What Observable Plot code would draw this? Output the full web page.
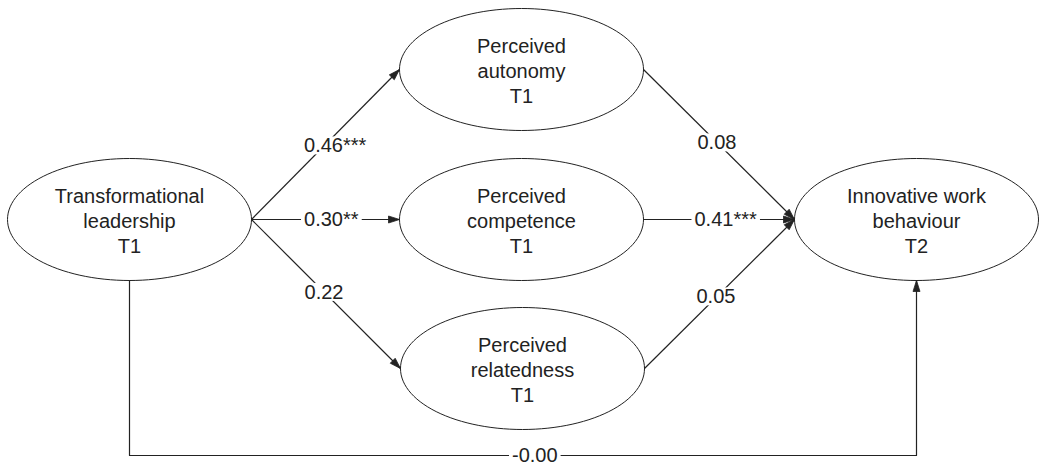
<!DOCTYPE html>
<html><head><meta charset="utf-8">
<script src="https://cdn.jsdelivr.net/npm/d3@7"></script>
<script src="https://cdn.jsdelivr.net/npm/@observablehq/plot@0.6"></script>
<style>body{margin:0;background:#fff;} #chart svg{display:block;}</style>
</head><body><div id="chart"></div>
<script>
// Nodes of the path model
const nodeLabels = [
  "Transformational\nleadership\nT1",
  "Perceived\nautonomy\nT1",
  "Perceived\ncompetence\nT1",
  "Perceived\nrelatedness\nT1",
  "Innovative work\nbehaviour\nT2"
];
// Paths (from -> to) and their coefficients
const edgeFrom = [0, 0, 0, 1, 2, 3];
const edgeTo = [1, 2, 3, 4, 4, 4];
const edgeLabels = ["0.46***", "0.30**", "0.22", "0.08", "0.41***", "0.05"];
const directLabel = "-0.00";

// Layout (diagram geometry)
const nodeX = [129, 521, 521, 522, 916];
const nodeY = [219, 69, 219, 368, 219];
const RX = 122, RY = 61;
const bottomY = 455;
const labelT = [0.49, 0.49, 0.49, 0.49, 0.47, 0.48];
const ink = "#222";
const font = "Liberation Sans, Arial, Helvetica, sans-serif";

// Ellipse outlines
const ellipsePts = [];
nodeLabels.forEach((_, i) => {
  for (let k = 0; k <= 120; k++) {
    const a = (k / 120) * 2 * Math.PI;
    ellipsePts.push({node: i, x: nodeX[i] + RX * Math.cos(a), y: nodeY[i] + RY * Math.sin(a)});
  }
});

// Edge segments
const edges = edgeFrom.map((f, i) => {
  const t = edgeTo[i];
  return {id: i, x1: nodeX[f] + RX, y1: nodeY[f], x2: nodeX[t] - RX, y2: nodeY[t], label: edgeLabels[i]};
});

// Direct path polyline
const directPath = [
  {x: nodeX[0], y: nodeY[0] + RY},
  {x: nodeX[0], y: bottomY},
  {x: nodeX[4], y: bottomY},
  {x: nodeX[4], y: nodeY[4] + RY}
];

// Arrowheads
const HL = 11, HW = 3.5;
const heads = [];
function addHead(id, x1, y1, x2, y2) {
  const dx = x2 - x1, dy = y2 - y1, len = Math.hypot(dx, dy);
  const ux = dx / len, uy = dy / len, nx = -uy, ny = ux;
  const bx = x2 - HL * ux, by = y2 - HL * uy;
  heads.push({id, x: x2, y: y2});
  heads.push({id, x: bx + HW * nx, y: by + HW * ny});
  heads.push({id, x: bx - HW * nx, y: by - HW * ny});
  heads.push({id, x: x2, y: y2});
}
edges.forEach(e => addHead(e.id, e.x1, e.y1, e.x2, e.y2));
addHead(99, nodeX[4], bottomY, nodeX[4], nodeY[4] + RY);

// Edge label positions
const labels = edges.map((e, i) => ({
  x: e.x1 + labelT[i] * (e.x2 - e.x1) - 20,
  y: e.y1 + labelT[i] * (e.y2 - e.y1),
  text: e.label
}));
const directLabelPos = [{x: nodeX[0] + 0.515 * (nodeX[4] - nodeX[0]), y: bottomY, text: directLabel}];

const nodes = nodeLabels.map((t, i) => ({x: nodeX[i], y: nodeY[i], text: t}));

const chart = Plot.plot({
  width: 1040, height: 466,
  marginTop: 0, marginRight: 0, marginBottom: 0, marginLeft: 0,
  x: {domain: [0, 1040], range: [0, 1040], axis: null},
  y: {domain: [0, 466], range: [0, 466], axis: null},
  style: {fontFamily: font, background: "white"},
  marks: [
    Plot.line(ellipsePts, {x: "x", y: "y", z: "node", stroke: ink, strokeWidth: 1, curve: "linear"}),
    Plot.link(edges, {x1: "x1", y1: "y1", x2: "x2", y2: "y2", stroke: ink, strokeWidth: 1.2}),
    Plot.line(directPath, {x: "x", y: "y", stroke: ink, strokeWidth: 1.2}),
    Plot.line(heads, {x: "x", y: "y", z: "id", fill: ink, stroke: ink, strokeWidth: 0.8}),
    Plot.text(labels, {x: "x", y: "y", text: "text", textAnchor: "start", fontSize: 20, fill: ink, className: "halo"}),
    Plot.text(directLabelPos, {x: "x", y: "y", text: "text", fontSize: 20, fill: ink, className: "halo"}),
    Plot.text(nodes, {x: "x", y: "y", text: "text", fontSize: 20, lineHeight: 1.25, fill: ink})
  ]
});
document.getElementById("chart").appendChild(chart);
// white boxes behind the coefficient labels so the paths break around them
d3.select(chart).selectAll(".halo text").each(function() {
  const b = this.getBBox();
  d3.select(this.parentNode).insert("rect", () => this)
    .attr("x", b.x - 3).attr("y", b.y + 2).attr("width", b.width + 6).attr("height", b.height - 4)
    .attr("fill", "white").attr("stroke", "none")
    .attr("transform", this.getAttribute("transform"));
});
</script>
</body></html>
